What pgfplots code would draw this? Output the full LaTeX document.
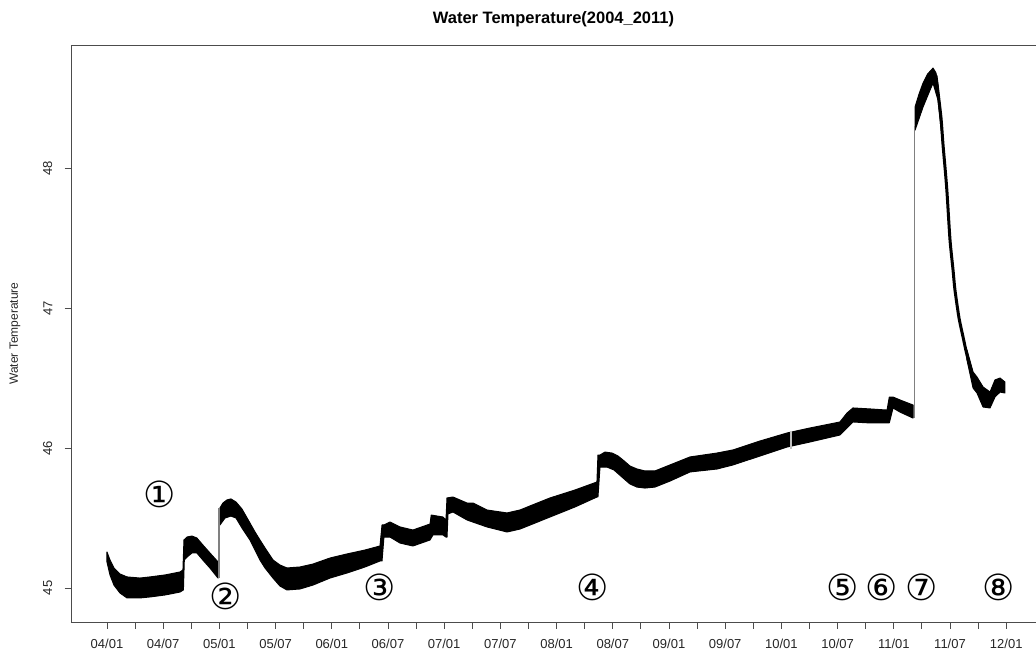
\documentclass[border=0pt]{standalone}
\usepackage{fontspec}
\setmainfont{Liberation Sans}
\newfontfamily\dejavu{DejaVu Sans}
\usepackage{pgfplots}
\pgfplotsset{compat=1.18}
\begin{document}
\begin{tikzpicture}
\begin{axis}[
  scale only axis, width=965pt, height=577pt,
  xmin=2003.68, xmax=2012.265, ymin=44.757, ymax=48.879,
  axis lines=left, axis line style={-, draw=black!70, line width=0.9pt},
  tick align=outside, major tick length=6.5pt, minor tick length=6.5pt,
  tick style={black!70, line width=0.9pt},
  xtick={2004,2004.5,2005,2005.5,2006,2006.5,2007,2007.5,2008,2008.5,2009,2009.5,2010,2010.5,2011,2011.5,2012},
  xticklabels={04/01,04/07,05/01,05/07,06/01,06/07,07/01,07/07,08/01,08/07,09/01,09/07,10/01,10/07,11/01,11/07,12/01},
  minor xtick={2004.25,2004.75,2005.25,2005.75,2006.25,2006.75,2007.25,2007.75,2008.25,2008.75,2009.25,2009.75,2010.25,2010.75,2011.25,2011.75},
  ytick={45,46,47,48},
  /pgf/number format/assume math mode=true,
  ticklabel style={font=\fontsize{13}{15}\selectfont, text=black!85},
  xticklabel style={anchor=north, inner sep=0pt},
  xticklabel shift=10pt,
  yticklabel style={rotate=90, anchor=south, inner sep=0pt},
  yticklabel shift=12pt,
  title={Water Temperature(2004\_2011)},
  title style={at={(axis description cs:0.5,1)}, anchor=center, yshift=20pt, font=\bfseries\fontsize{16.5}{19}\selectfont},
  ylabel={Water Temperature},
  ylabel style={at={(axis description cs:-0.058,0.5)}, anchor=center, font=\fontsize{12}{14}\selectfont, text=black!85},
  clip=false,
]
\draw[black!70, line width=0.9pt] (rel axis cs:0,1) -- (rel axis cs:1,1);
% piece 1
\addplot[fill=black, draw=black, line width=1pt, line join=round] coordinates {
(2004.000,45.257) (2004.027,45.200) (2004.062,45.143) (2004.116,45.100) (2004.178,45.079) (2004.294,45.071) (2004.383,45.079) (2004.516,45.093) (2004.649,45.114) (2004.676,45.129) (2004.685,45.343) (2004.712,45.364) (2004.756,45.371) (2004.800,45.357) (2004.853,45.307) (2004.916,45.250) (2004.988,45.186)
(2004.988,45.071) (2004.916,45.143) (2004.853,45.200) (2004.800,45.250) (2004.756,45.250) (2004.712,45.221) (2004.688,45.200) (2004.680,44.986) (2004.649,44.971) (2004.516,44.950) (2004.383,44.936) (2004.294,44.929) (2004.178,44.929) (2004.116,44.964) (2004.062,45.021) (2004.027,45.093) (2004.000,45.186)
} --cycle;
% piece 2
\addplot[fill=black, draw=black, line width=1pt, line join=round] coordinates {
(2005.005,45.571) (2005.032,45.607) (2005.068,45.629) (2005.103,45.636) (2005.148,45.614) (2005.201,45.564) (2005.272,45.464) (2005.317,45.400) (2005.361,45.343) (2005.406,45.286) (2005.477,45.200) (2005.539,45.164) (2005.601,45.143) (2005.717,45.150) (2005.833,45.171) (2005.984,45.214) (2006.135,45.243) (2006.295,45.271) (2006.429,45.300) (2006.447,45.450) (2006.464,45.450) (2006.518,45.471) (2006.607,45.436) (2006.722,45.414) (2006.874,45.457) (2006.885,45.521) (2006.989,45.507) (2007.016,45.486) (2007.025,45.643) (2007.078,45.650) (2007.203,45.607) (2007.256,45.607) (2007.381,45.557) (2007.559,45.536) (2007.674,45.557) (2007.941,45.643) (2008.164,45.700) (2008.359,45.757) (2008.368,45.950) (2008.386,45.950) (2008.431,45.971) (2008.493,45.964) (2008.546,45.943) (2008.591,45.914) (2008.653,45.871) (2008.715,45.850) (2008.786,45.836) (2008.875,45.836) (2009.009,45.879) (2009.187,45.936) (2009.427,45.964) (2009.569,45.986) (2009.810,46.050) (2010.050,46.107) (2010.254,46.143) (2010.521,46.186) (2010.584,46.250) (2010.637,46.286) (2010.788,46.279) (2010.940,46.271) (2010.960,46.364) (2010.993,46.364) (2011.055,46.343) (2011.171,46.307)
(2011.171,46.214) (2011.055,46.257) (2010.993,46.286) (2010.960,46.180) (2010.940,46.179) (2010.788,46.179) (2010.637,46.186) (2010.584,46.143) (2010.521,46.093) (2010.254,46.043) (2010.050,46.007) (2009.810,45.943) (2009.569,45.879) (2009.427,45.850) (2009.187,45.829) (2009.009,45.764) (2008.875,45.721) (2008.786,45.714) (2008.715,45.721) (2008.653,45.743) (2008.591,45.786) (2008.511,45.843) (2008.448,45.864) (2008.386,45.864) (2008.368,45.650) (2008.359,45.650) (2008.164,45.579) (2007.941,45.507) (2007.674,45.421) (2007.559,45.400) (2007.381,45.436) (2007.256,45.471) (2007.203,45.486) (2007.078,45.543) (2007.034,45.529) (2007.025,45.364) (2007.016,45.364) (2006.989,45.379) (2006.900,45.379) (2006.874,45.343) (2006.722,45.300) (2006.607,45.321) (2006.518,45.364) (2006.464,45.364) (2006.447,45.193) (2006.429,45.193) (2006.295,45.150) (2006.135,45.107) (2005.984,45.071) (2005.833,45.021) (2005.717,44.993) (2005.601,44.986) (2005.539,45.014) (2005.477,45.071) (2005.406,45.143) (2005.361,45.200) (2005.317,45.271) (2005.272,45.343) (2005.201,45.429) (2005.148,45.500) (2005.103,45.514) (2005.050,45.500) (2005.005,45.450)
} --cycle;
% piece 3
\addplot[fill=black, draw=black, line width=1pt, line join=round] coordinates {
(2011.189,48.436) (2011.225,48.530) (2011.260,48.607) (2011.300,48.671) (2011.349,48.714) (2011.375,48.680) (2011.393,48.593) (2011.420,48.357) (2011.438,48.200)
(2011.438,48.143) (2011.393,48.486) (2011.349,48.607) (2011.322,48.557) (2011.260,48.436) (2011.189,48.271)
} --cycle;
\addplot[fill=black, draw=black, line width=1pt, line join=round] coordinates {
(2011.651,46.700) (2011.705,46.543) (2011.740,46.507) (2011.794,46.436) (2011.856,46.400) (2011.900,46.486) (2011.945,46.500) (2011.989,46.471)
(2011.989,46.393) (2011.945,46.400) (2011.900,46.364) (2011.856,46.286) (2011.794,46.293) (2011.740,46.393) (2011.705,46.429) (2011.651,46.629)
} --cycle;
\addplot[black, line width=3pt, line join=round, line cap=round, smooth, tension=0.4] coordinates {
(2011.375,48.660) (2011.393,48.543) (2011.420,48.357) (2011.438,48.164) (2011.456,48.000) (2011.473,47.829) (2011.500,47.486) (2011.527,47.271) (2011.544,47.129) (2011.580,46.929) (2011.616,46.793) (2011.651,46.664) (2011.705,46.507) (2011.740,46.436) (2011.794,46.343) (2011.829,46.307)
};
% gray jump lines
\addplot[gray, line width=1.3pt] coordinates {(2004.996,45.071) (2004.996,45.571)};
\addplot[gray, line width=1.5pt] coordinates {(2011.182,46.214) (2011.182,48.300)};
\addplot[black!25, line width=1.2pt] coordinates {(2010.085,45.990) (2010.085,46.125)};
% circled labels
\node[font=\dejavu\fontsize{36}{36}\selectfont] at (axis cs:2004.472,45.671) {①};
\node[font=\dejavu\fontsize{36}{36}\selectfont] at (axis cs:2005.059,44.943) {②};
\node[font=\dejavu\fontsize{36}{36}\selectfont] at (axis cs:2006.429,45.007) {③};
\node[font=\dejavu\fontsize{36}{36}\selectfont] at (axis cs:2008.324,45.007) {④};
\node[font=\dejavu\fontsize{36}{36}\selectfont] at (axis cs:2010.548,45.007) {⑤};
\node[font=\dejavu\fontsize{36}{36}\selectfont] at (axis cs:2010.895,45.007) {⑥};
\node[font=\dejavu\fontsize{36}{36}\selectfont] at (axis cs:2011.251,45.007) {⑦};
\node[font=\dejavu\fontsize{36}{36}\selectfont] at (axis cs:2011.936,45.007) {⑧};
\end{axis}
\pgfresetboundingbox
\path[use as bounding box] (-71pt,-29pt) rectangle (965pt,622pt);
\end{tikzpicture}
\end{document}
